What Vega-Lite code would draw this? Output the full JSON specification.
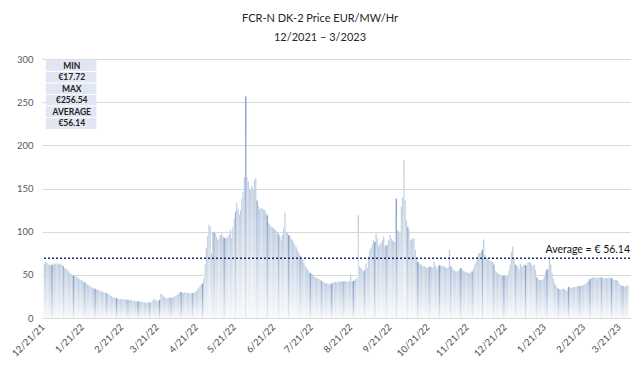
{
"$schema": "https://vega.github.io/schema/vega-lite/v6.json",
"width": 588, "height": 259,
"autosize": {"type": "none"},
"padding": {"left": 42, "top": 59, "right": 10, "bottom": 48},
"background": "white",
"config": {"font": "Lato", "view": {"stroke": null}},
"title": {"text": "FCR-N DK-2 Price EUR/MW/Hr", "subtitle": "12/2021 – 3/2023", "fontSize": 11, "subtitleFontSize": 11, "font": "Lato", "subtitleFont": "Lato", "fontWeight": "normal", "color": "#262626", "subtitleColor": "#262626", "anchor": "middle", "dx": -16, "offset": 11, "subtitlePadding": 8},
"data": {"values": [
{"d":"2021-12-21","v":63},{"d":"2021-12-22","v":65},{"d":"2021-12-23","v":64},{"d":"2021-12-24","v":62},{"d":"2021-12-25","v":61},{"d":"2021-12-26","v":62},{"d":"2021-12-27","v":61},{"d":"2021-12-28","v":63},{"d":"2021-12-29","v":62},{"d":"2021-12-30","v":63},{"d":"2021-12-31","v":62},
{"d":"2022-01-01","v":63},{"d":"2022-01-02","v":62},{"d":"2022-01-03","v":63},{"d":"2022-01-04","v":61},{"d":"2022-01-05","v":60},{"d":"2022-01-06","v":58},{"d":"2022-01-07","v":57},{"d":"2022-01-08","v":56},{"d":"2022-01-09","v":54},{"d":"2022-01-10","v":52},{"d":"2022-01-11","v":51},{"d":"2022-01-12","v":50},{"d":"2022-01-13","v":49},{"d":"2022-01-14","v":48},{"d":"2022-01-15","v":48},{"d":"2022-01-16","v":47},{"d":"2022-01-17","v":46},{"d":"2022-01-18","v":45},{"d":"2022-01-19","v":44},{"d":"2022-01-20","v":43},{"d":"2022-01-21","v":42},{"d":"2022-01-22","v":41},{"d":"2022-01-23","v":40},{"d":"2022-01-24","v":39},{"d":"2022-01-25","v":38},{"d":"2022-01-26","v":37},{"d":"2022-01-27","v":36},{"d":"2022-01-28","v":35},{"d":"2022-01-29","v":34},{"d":"2022-01-30","v":34},{"d":"2022-01-31","v":33},
{"d":"2022-02-01","v":33},{"d":"2022-02-02","v":32},{"d":"2022-02-03","v":31},{"d":"2022-02-04","v":31},{"d":"2022-02-05","v":30},{"d":"2022-02-06","v":30},{"d":"2022-02-07","v":29},{"d":"2022-02-08","v":29},{"d":"2022-02-09","v":28},{"d":"2022-02-10","v":27},{"d":"2022-02-11","v":26},{"d":"2022-02-12","v":25},{"d":"2022-02-13","v":24},{"d":"2022-02-14","v":24},{"d":"2022-02-15","v":23},{"d":"2022-02-16","v":23},{"d":"2022-02-17","v":22},{"d":"2022-02-18","v":22},{"d":"2022-02-19","v":22},{"d":"2022-02-20","v":22},{"d":"2022-02-21","v":21},{"d":"2022-02-22","v":22},{"d":"2022-02-23","v":21},{"d":"2022-02-24","v":21},{"d":"2022-02-25","v":21},{"d":"2022-02-26","v":20},{"d":"2022-02-27","v":21},{"d":"2022-02-28","v":20},
{"d":"2022-03-01","v":20},{"d":"2022-03-02","v":20},{"d":"2022-03-03","v":19},{"d":"2022-03-04","v":19},{"d":"2022-03-05","v":19},{"d":"2022-03-06","v":19},{"d":"2022-03-07","v":18},{"d":"2022-03-08","v":19},{"d":"2022-03-09","v":18},{"d":"2022-03-10","v":18},{"d":"2022-03-11","v":18},{"d":"2022-03-12","v":17.72},{"d":"2022-03-13","v":18},{"d":"2022-03-14","v":18},{"d":"2022-03-15","v":18},{"d":"2022-03-16","v":19},{"d":"2022-03-17","v":21},{"d":"2022-03-18","v":22},{"d":"2022-03-19","v":20},{"d":"2022-03-20","v":20},{"d":"2022-03-21","v":20},{"d":"2022-03-22","v":21},{"d":"2022-03-23","v":28},{"d":"2022-03-24","v":27},{"d":"2022-03-25","v":25},{"d":"2022-03-26","v":24},{"d":"2022-03-27","v":23},{"d":"2022-03-28","v":23},{"d":"2022-03-29","v":23},{"d":"2022-03-30","v":24},{"d":"2022-03-31","v":23},
{"d":"2022-04-01","v":24},{"d":"2022-04-02","v":24},{"d":"2022-04-03","v":25},{"d":"2022-04-04","v":26},{"d":"2022-04-05","v":27},{"d":"2022-04-06","v":28},{"d":"2022-04-07","v":30},{"d":"2022-04-08","v":30},{"d":"2022-04-09","v":29},{"d":"2022-04-10","v":29},{"d":"2022-04-11","v":30},{"d":"2022-04-12","v":29},{"d":"2022-04-13","v":29},{"d":"2022-04-14","v":29},{"d":"2022-04-15","v":28},{"d":"2022-04-16","v":29},{"d":"2022-04-17","v":29},{"d":"2022-04-18","v":29},{"d":"2022-04-19","v":30},{"d":"2022-04-20","v":31},{"d":"2022-04-21","v":33},{"d":"2022-04-22","v":35},{"d":"2022-04-23","v":37},{"d":"2022-04-24","v":39},{"d":"2022-04-25","v":40},{"d":"2022-04-26","v":46},{"d":"2022-04-27","v":62},{"d":"2022-04-28","v":81},{"d":"2022-04-29","v":95},{"d":"2022-04-30","v":108},
{"d":"2022-05-01","v":106},{"d":"2022-05-02","v":75},{"d":"2022-05-03","v":100},{"d":"2022-05-04","v":99},{"d":"2022-05-05","v":98},{"d":"2022-05-06","v":94},{"d":"2022-05-07","v":90},{"d":"2022-05-08","v":92},{"d":"2022-05-09","v":96},{"d":"2022-05-10","v":98},{"d":"2022-05-11","v":94},{"d":"2022-05-12","v":93},{"d":"2022-05-13","v":92},{"d":"2022-05-14","v":93},{"d":"2022-05-15","v":94},{"d":"2022-05-16","v":97},{"d":"2022-05-17","v":102},{"d":"2022-05-18","v":92},{"d":"2022-05-19","v":105},{"d":"2022-05-20","v":115},{"d":"2022-05-21","v":123},{"d":"2022-05-22","v":133},{"d":"2022-05-23","v":126},{"d":"2022-05-24","v":120},{"d":"2022-05-25","v":125},{"d":"2022-05-26","v":138},{"d":"2022-05-27","v":146},{"d":"2022-05-28","v":163},{"d":"2022-05-29","v":256.54},{"d":"2022-05-30","v":163},{"d":"2022-05-31","v":158},
{"d":"2022-06-01","v":150},{"d":"2022-06-02","v":148},{"d":"2022-06-03","v":153},{"d":"2022-06-04","v":148},{"d":"2022-06-05","v":160},{"d":"2022-06-06","v":162},{"d":"2022-06-07","v":136},{"d":"2022-06-08","v":130},{"d":"2022-06-09","v":126},{"d":"2022-06-10","v":127},{"d":"2022-06-11","v":127},{"d":"2022-06-12","v":126},{"d":"2022-06-13","v":125},{"d":"2022-06-14","v":122},{"d":"2022-06-15","v":119},{"d":"2022-06-16","v":110},{"d":"2022-06-17","v":108},{"d":"2022-06-18","v":106},{"d":"2022-06-19","v":105},{"d":"2022-06-20","v":104},{"d":"2022-06-21","v":103},{"d":"2022-06-22","v":101},{"d":"2022-06-23","v":100},{"d":"2022-06-24","v":97},{"d":"2022-06-25","v":94},{"d":"2022-06-26","v":90},{"d":"2022-06-27","v":96},{"d":"2022-06-28","v":104},{"d":"2022-06-29","v":122},{"d":"2022-06-30","v":100},
{"d":"2022-07-01","v":99},{"d":"2022-07-02","v":96},{"d":"2022-07-03","v":94},{"d":"2022-07-04","v":92},{"d":"2022-07-05","v":90},{"d":"2022-07-06","v":87},{"d":"2022-07-07","v":84},{"d":"2022-07-08","v":82},{"d":"2022-07-09","v":78},{"d":"2022-07-10","v":75},{"d":"2022-07-11","v":72},{"d":"2022-07-12","v":70},{"d":"2022-07-13","v":68},{"d":"2022-07-14","v":64},{"d":"2022-07-15","v":60},{"d":"2022-07-16","v":58},{"d":"2022-07-17","v":56},{"d":"2022-07-18","v":54},{"d":"2022-07-19","v":52},{"d":"2022-07-20","v":51},{"d":"2022-07-21","v":50},{"d":"2022-07-22","v":49},{"d":"2022-07-23","v":47},{"d":"2022-07-24","v":46},{"d":"2022-07-25","v":46},{"d":"2022-07-26","v":45},{"d":"2022-07-27","v":44},{"d":"2022-07-28","v":43},{"d":"2022-07-29","v":42},{"d":"2022-07-30","v":41},{"d":"2022-07-31","v":40},
{"d":"2022-08-01","v":40},{"d":"2022-08-02","v":40},{"d":"2022-08-03","v":39},{"d":"2022-08-04","v":39},{"d":"2022-08-05","v":40},{"d":"2022-08-06","v":41},{"d":"2022-08-07","v":41},{"d":"2022-08-08","v":42},{"d":"2022-08-09","v":41},{"d":"2022-08-10","v":42},{"d":"2022-08-11","v":42},{"d":"2022-08-12","v":42},{"d":"2022-08-13","v":43},{"d":"2022-08-14","v":42},{"d":"2022-08-15","v":43},{"d":"2022-08-16","v":42},{"d":"2022-08-17","v":43},{"d":"2022-08-18","v":42},{"d":"2022-08-19","v":43},{"d":"2022-08-20","v":50},{"d":"2022-08-21","v":42},{"d":"2022-08-22","v":43},{"d":"2022-08-23","v":44},{"d":"2022-08-24","v":45},{"d":"2022-08-25","v":46},{"d":"2022-08-26","v":119},{"d":"2022-08-27","v":60},{"d":"2022-08-28","v":58},{"d":"2022-08-29","v":56},{"d":"2022-08-30","v":54},{"d":"2022-08-31","v":55},
{"d":"2022-09-01","v":63},{"d":"2022-09-02","v":58},{"d":"2022-09-03","v":71},{"d":"2022-09-04","v":78},{"d":"2022-09-05","v":81},{"d":"2022-09-06","v":85},{"d":"2022-09-07","v":90},{"d":"2022-09-08","v":88},{"d":"2022-09-09","v":98},{"d":"2022-09-10","v":92},{"d":"2022-09-11","v":83},{"d":"2022-09-12","v":85},{"d":"2022-09-13","v":87},{"d":"2022-09-14","v":90},{"d":"2022-09-15","v":94},{"d":"2022-09-16","v":83},{"d":"2022-09-17","v":84},{"d":"2022-09-18","v":85},{"d":"2022-09-19","v":90},{"d":"2022-09-20","v":96},{"d":"2022-09-21","v":92},{"d":"2022-09-22","v":90},{"d":"2022-09-23","v":89},{"d":"2022-09-24","v":88},{"d":"2022-09-25","v":138},{"d":"2022-09-26","v":102},{"d":"2022-09-27","v":100},{"d":"2022-09-28","v":100},{"d":"2022-09-29","v":129},{"d":"2022-09-30","v":140},
{"d":"2022-10-01","v":182.7},{"d":"2022-10-02","v":136},{"d":"2022-10-03","v":113},{"d":"2022-10-04","v":105},{"d":"2022-10-05","v":102},{"d":"2022-10-06","v":90},{"d":"2022-10-07","v":91},{"d":"2022-10-08","v":92},{"d":"2022-10-09","v":92},{"d":"2022-10-10","v":79},{"d":"2022-10-11","v":68},{"d":"2022-10-12","v":65},{"d":"2022-10-13","v":63},{"d":"2022-10-14","v":62},{"d":"2022-10-15","v":61},{"d":"2022-10-16","v":60},{"d":"2022-10-17","v":60},{"d":"2022-10-18","v":59},{"d":"2022-10-19","v":58},{"d":"2022-10-20","v":58},{"d":"2022-10-21","v":59},{"d":"2022-10-22","v":60},{"d":"2022-10-23","v":59},{"d":"2022-10-24","v":58},{"d":"2022-10-25","v":65},{"d":"2022-10-26","v":60},{"d":"2022-10-27","v":56},{"d":"2022-10-28","v":59},{"d":"2022-10-29","v":61},{"d":"2022-10-30","v":61},{"d":"2022-10-31","v":60},
{"d":"2022-11-01","v":60},{"d":"2022-11-02","v":60},{"d":"2022-11-03","v":58},{"d":"2022-11-04","v":58},{"d":"2022-11-05","v":59},{"d":"2022-11-06","v":79},{"d":"2022-11-07","v":60},{"d":"2022-11-08","v":58},{"d":"2022-11-09","v":56},{"d":"2022-11-10","v":55},{"d":"2022-11-11","v":54},{"d":"2022-11-12","v":54},{"d":"2022-11-13","v":55},{"d":"2022-11-14","v":56},{"d":"2022-11-15","v":58},{"d":"2022-11-16","v":56},{"d":"2022-11-17","v":55},{"d":"2022-11-18","v":54},{"d":"2022-11-19","v":53},{"d":"2022-11-20","v":53},{"d":"2022-11-21","v":52},{"d":"2022-11-22","v":52},{"d":"2022-11-23","v":53},{"d":"2022-11-24","v":54},{"d":"2022-11-25","v":57},{"d":"2022-11-26","v":62},{"d":"2022-11-27","v":65},{"d":"2022-11-28","v":71},{"d":"2022-11-29","v":75},{"d":"2022-11-30","v":75},
{"d":"2022-12-01","v":76},{"d":"2022-12-02","v":79},{"d":"2022-12-03","v":91},{"d":"2022-12-04","v":73},{"d":"2022-12-05","v":71},{"d":"2022-12-06","v":69},{"d":"2022-12-07","v":67},{"d":"2022-12-08","v":67},{"d":"2022-12-09","v":66},{"d":"2022-12-10","v":65},{"d":"2022-12-11","v":62},{"d":"2022-12-12","v":55},{"d":"2022-12-13","v":53},{"d":"2022-12-14","v":52},{"d":"2022-12-15","v":51},{"d":"2022-12-16","v":50},{"d":"2022-12-17","v":49},{"d":"2022-12-18","v":49},{"d":"2022-12-19","v":49},{"d":"2022-12-20","v":49},{"d":"2022-12-21","v":48},{"d":"2022-12-22","v":48},{"d":"2022-12-23","v":55},{"d":"2022-12-24","v":62},{"d":"2022-12-25","v":77},{"d":"2022-12-26","v":82.7},{"d":"2022-12-27","v":69},{"d":"2022-12-28","v":62},{"d":"2022-12-29","v":61},{"d":"2022-12-30","v":60},{"d":"2022-12-31","v":56},
{"d":"2023-01-01","v":63},{"d":"2023-01-02","v":60},{"d":"2023-01-03","v":60},{"d":"2023-01-04","v":62},{"d":"2023-01-05","v":61},{"d":"2023-01-06","v":61},{"d":"2023-01-07","v":64},{"d":"2023-01-08","v":65},{"d":"2023-01-09","v":64},{"d":"2023-01-10","v":61},{"d":"2023-01-11","v":60},{"d":"2023-01-12","v":62},{"d":"2023-01-13","v":56},{"d":"2023-01-14","v":47},{"d":"2023-01-15","v":45},{"d":"2023-01-16","v":44},{"d":"2023-01-17","v":44},{"d":"2023-01-18","v":44},{"d":"2023-01-19","v":45},{"d":"2023-01-20","v":48},{"d":"2023-01-21","v":54},{"d":"2023-01-22","v":56},{"d":"2023-01-23","v":57},{"d":"2023-01-24","v":69},{"d":"2023-01-25","v":62},{"d":"2023-01-26","v":52},{"d":"2023-01-27","v":46},{"d":"2023-01-28","v":40},{"d":"2023-01-29","v":38},{"d":"2023-01-30","v":35},{"d":"2023-01-31","v":34},
{"d":"2023-02-01","v":33},{"d":"2023-02-02","v":33},{"d":"2023-02-03","v":33},{"d":"2023-02-04","v":34},{"d":"2023-02-05","v":33},{"d":"2023-02-06","v":32},{"d":"2023-02-07","v":31},{"d":"2023-02-08","v":36},{"d":"2023-02-09","v":35},{"d":"2023-02-10","v":35},{"d":"2023-02-11","v":35},{"d":"2023-02-12","v":36},{"d":"2023-02-13","v":36},{"d":"2023-02-14","v":36},{"d":"2023-02-15","v":37},{"d":"2023-02-16","v":37},{"d":"2023-02-17","v":37},{"d":"2023-02-18","v":37},{"d":"2023-02-19","v":38},{"d":"2023-02-20","v":38},{"d":"2023-02-21","v":39},{"d":"2023-02-22","v":40},{"d":"2023-02-23","v":42},{"d":"2023-02-24","v":43},{"d":"2023-02-25","v":45},{"d":"2023-02-26","v":46},{"d":"2023-02-27","v":47},{"d":"2023-02-28","v":47},
{"d":"2023-03-01","v":47},{"d":"2023-03-02","v":46},{"d":"2023-03-03","v":46},{"d":"2023-03-04","v":47},{"d":"2023-03-05","v":47},{"d":"2023-03-06","v":47},{"d":"2023-03-07","v":46},{"d":"2023-03-08","v":46},{"d":"2023-03-09","v":46},{"d":"2023-03-10","v":46},{"d":"2023-03-11","v":46},{"d":"2023-03-12","v":47},{"d":"2023-03-13","v":47},{"d":"2023-03-14","v":46},{"d":"2023-03-15","v":45},{"d":"2023-03-16","v":44},{"d":"2023-03-17","v":44},{"d":"2023-03-18","v":44},{"d":"2023-03-19","v":43},{"d":"2023-03-20","v":40},{"d":"2023-03-21","v":38},{"d":"2023-03-22","v":37},{"d":"2023-03-23","v":37},{"d":"2023-03-24","v":36},{"d":"2023-03-25","v":37},{"d":"2023-03-26","v":37},{"d":"2023-03-27","v":38}
]},
"layer": [
{
"mark": {"type": "bar", "binSpacing": 0, "stroke": "white", "strokeWidth": 0.25, "strokeOpacity": 0.6, "color": {"gradient": "linear", "x1": 0, "y1": 0, "x2": 0, "y2": 1, "stops": [{"offset": 0, "color": "#b5c7dc"}, {"offset": 0.5, "color": "#d4dee9"}, {"offset": 1, "color": "#f7f9fc"}]}},
"encoding": {
"x": {"field": "d", "timeUnit": "utcyearmonthdate", "type": "temporal",
"scale": {"domain": [{"year": 2021, "month": 12, "date": 20, "utc": true}, {"year": 2023, "month": 3, "date": 29, "hours": 12, "utc": true}]},
"axis": {"title": null, "labels": false, "ticks": false, "grid": false, "domainColor": "#d9d9d9"}},
"y": {"field": "v", "type": "quantitative", "scale": {"domain": [0, 300]},
"axis": {"title": null, "values": [0, 50, 100, 150, 200, 250, 300], "labelFontSize": 9.5, "labelColor": "#595959", "labelFont": "Lato", "ticks": false, "domain": false, "gridColor": "#d9d9d9", "labelPadding": 9}}
}
},
{
"transform": [{"filter": "floor(time(datum.d) / 86400000) % 17 == 16"}],
"mark": {"type": "bar", "binSpacing": 0, "color": {"gradient": "linear", "x1": 0, "y1": 0, "x2": 0, "y2": 1, "stops": [{"offset": 0, "color": "#7f9dc5"}, {"offset": 0.5, "color": "#a3b9d6"}, {"offset": 1, "color": "#e6ecf5"}]}},
"encoding": {
"x": {"field": "d", "timeUnit": "utcyearmonthdate", "type": "temporal"},
"y": {"field": "v", "type": "quantitative"}
}
},
{
"transform": [{"filter": "floor(time(datum.d) / 86400000) % 17 == 8"}],
"mark": {"type": "bar", "binSpacing": 0, "color": {"gradient": "linear", "x1": 0, "y1": 0, "x2": 0, "y2": 1, "stops": [{"offset": 0, "color": "#9ab2d1"}, {"offset": 0.5, "color": "#bccbe0"}, {"offset": 1, "color": "#eef2f8"}]}},
"encoding": {
"x": {"field": "d", "timeUnit": "utcyearmonthdate", "type": "temporal"},
"y": {"field": "v", "type": "quantitative"}
}
},
{
"data": {"values": [{"t":"2021-12-21"},{"t":"2022-01-21"},{"t":"2022-02-21"},{"t":"2022-03-21"},{"t":"2022-04-21"},{"t":"2022-05-21"},{"t":"2022-06-21"},{"t":"2022-07-21"},{"t":"2022-08-21"},{"t":"2022-09-21"},{"t":"2022-10-21"},{"t":"2022-11-21"},{"t":"2022-12-21"},{"t":"2023-01-21"},{"t":"2023-02-21"},{"t":"2023-03-21"}]},
"mark": {"type": "text", "angle": 315, "align": "right", "baseline": "middle", "fontSize": 9.5, "font": "Lato", "color": "#505050"},
"encoding": {
"x": {"field": "t", "timeUnit": "utcyearmonthdate", "type": "temporal"},
"y": {"datum": -9},
"text": {"field": "t", "timeUnit": "utcyearmonthdate", "type": "temporal", "format": "%-m/%-d/%y"}
}
},
{
"data": {"values": [{}]},
"mark": {"type": "rule", "color": "#1c2a6b", "strokeDash": [2, 2], "strokeWidth": 1.5},
"encoding": {"y": {"datum": 69.2}}
},
{
"data": {"values": [{}]},
"mark": {"type": "text", "text": "Average = € 56.14", "align": "right", "baseline": "bottom", "dy": -3, "fontSize": 10.5, "font": "Lato", "color": "#111111"},
"encoding": {"x": {"datum": {"year": 2023, "month": 3, "date": 29, "hours": 12, "utc": true}, "type": "temporal"}, "y": {"datum": 69.2}}
},
{
"data": {"values": [{}]},
"mark": {"type": "rect", "color": "#e2e6f2"},
"encoding": {"x": {"datum": {"year": 2021, "month": 12, "date": 23, "utc": true}, "type": "temporal"}, "x2": {"datum": {"year": 2022, "month": 2, "date": 1, "utc": true}}, "y": {"datum": 299}, "y2": {"datum": 219}}
},
{"data": {"values": [{}]}, "mark": {"type": "rule", "color": "white", "strokeWidth": 1},
"encoding": {"x": {"datum": {"year": 2021, "month": 12, "date": 23, "utc": true}, "type": "temporal"}, "x2": {"datum": {"year": 2022, "month": 2, "date": 1, "utc": true}}, "y": {"datum": 285.7}}},
{"data": {"values": [{}]}, "mark": {"type": "rule", "color": "white", "strokeWidth": 1},
"encoding": {"x": {"datum": {"year": 2021, "month": 12, "date": 23, "utc": true}, "type": "temporal"}, "x2": {"datum": {"year": 2022, "month": 2, "date": 1, "utc": true}}, "y": {"datum": 272.3}}},
{"data": {"values": [{}]}, "mark": {"type": "rule", "color": "white", "strokeWidth": 1},
"encoding": {"x": {"datum": {"year": 2021, "month": 12, "date": 23, "utc": true}, "type": "temporal"}, "x2": {"datum": {"year": 2022, "month": 2, "date": 1, "utc": true}}, "y": {"datum": 259}}},
{"data": {"values": [{}]}, "mark": {"type": "rule", "color": "white", "strokeWidth": 1},
"encoding": {"x": {"datum": {"year": 2021, "month": 12, "date": 23, "utc": true}, "type": "temporal"}, "x2": {"datum": {"year": 2022, "month": 2, "date": 1, "utc": true}}, "y": {"datum": 245.7}}},
{"data": {"values": [{}]}, "mark": {"type": "rule", "color": "white", "strokeWidth": 1},
"encoding": {"x": {"datum": {"year": 2021, "month": 12, "date": 23, "utc": true}, "type": "temporal"}, "x2": {"datum": {"year": 2022, "month": 2, "date": 1, "utc": true}}, "y": {"datum": 232.3}}},
{
"data": {"values": [{}]},
"mark": {"type": "text", "text": ["MIN", "€17.72", "MAX", "€256.54", "AVERAGE", "€56.14"], "align": "center", "baseline": "middle", "lineHeight": 11.5, "fontSize": 8.5, "fontWeight": "bold", "font": "Lato", "color": "#222222"},
"encoding": {"x": {"datum": {"year": 2022, "month": 1, "date": 12, "hours": 12, "utc": true}, "type": "temporal"}, "y": {"datum": 292.3}}
}
]
}
